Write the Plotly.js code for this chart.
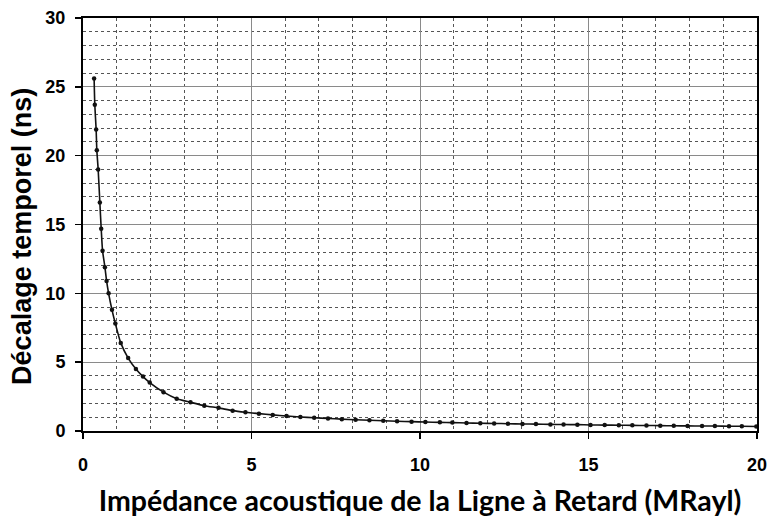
<!DOCTYPE html>
<html>
<head>
<meta charset="utf-8">
<script src="https://cdn.plot.ly/plotly-3.0.1.min.js"></script>
<style>html,body{margin:0;padding:0;background:#fff;}#chart{width:769px;height:522px;}</style>
</head>
<body>
<div id="chart"></div>
<script>
// Impedance (MRayl)
const impedance = [0.33, 0.35, 0.39, 0.41, 0.45, 0.50, 0.54, 0.58, 0.65, 0.70, 0.76, 0.86, 0.96, 1.12, 1.34, 1.57, 1.78, 1.98, 2.39, 2.78, 3.19, 3.60, 4.02, 4.44, 4.82,
  5.22, 5.63, 6.04, 6.45, 6.86, 7.27, 7.68, 8.09, 8.50, 8.91, 9.32, 9.75, 10.16, 10.59, 10.96, 11.38, 11.79, 12.20, 12.61, 13.04, 13.44,
  13.87, 14.26, 14.67, 15.06, 15.48, 15.90, 16.30, 16.72, 17.13, 17.53, 17.94, 18.37, 18.75, 19.17, 19.55, 19.98];
// Time shift (ns)
const decalage = [25.6, 23.7, 21.9, 20.4, 19.0, 16.6, 14.7, 13.1, 11.9, 10.9, 10.0, 8.8, 7.8, 6.4, 5.3, 4.5, 3.95, 3.52, 2.82, 2.35, 2.09, 1.84, 1.68, 1.48, 1.36,
  1.26, 1.17, 1.09, 1.02, 0.96, 0.91, 0.86, 0.82, 0.78, 0.75, 0.71, 0.68, 0.65, 0.63, 0.61, 0.58, 0.56, 0.55, 0.53, 0.51, 0.50,
  0.48, 0.47, 0.46, 0.44, 0.43, 0.42, 0.41, 0.40, 0.39, 0.38, 0.37, 0.36, 0.36, 0.35, 0.34, 0.33];

const xTitle = "Impédance acoustique de la Ligne à Retard (MRayl)";
const yTitle = "Décalage temporel (ns)";

const trace = {
  x: impedance, y: decalage, type: 'scatter', mode: 'lines+markers',
  line: {color: '#111', width: 1.6, shape: 'spline', smoothing: 0.6},
  marker: {color: '#111', size: 4.5},
  cliponaxis: false, hoverinfo: 'skip'
};

const tickFont = {family: '"Liberation Sans", Arial, sans-serif', size: 18, color: '#000', weight: 'bold'};

const layout = {
  width: 769, height: 522,
  margin: {l: 83, r: 12, t: 18, b: 91},
  paper_bgcolor: '#fff', plot_bgcolor: '#fff',
  showlegend: false,
  xaxis: {
    range: [0, 20], dtick: 5, tick0: 0,
    showline: true, linecolor: '#000', linewidth: 2, mirror: true,
    ticks: 'outside', ticklen: 6, tickwidth: 1.5, tickcolor: '#000',
    showgrid: true, gridcolor: '#8a8a8a', gridwidth: 1,
    minor: {dtick: 1, showgrid: true, gridcolor: '#555', griddash: 'dot', gridwidth: 1},
    zeroline: false,
    tickfont: tickFont, ticklabelstandoff: 10,
    title: {text: xTitle, font: {family: 'Lato, "Open Sans", sans-serif', size: 28.5, color: '#000', weight: 'bold'}, standoff: 17}
  },
  yaxis: {
    range: [0, 30], dtick: 5, tick0: 0,
    showline: true, linecolor: '#000', linewidth: 2, mirror: true,
    ticks: 'outside', ticklen: 6, tickwidth: 1.5, tickcolor: '#000',
    showgrid: true, gridcolor: '#8a8a8a', gridwidth: 1,
    minor: {dtick: 1, showgrid: true, gridcolor: '#555', griddash: 'dot', gridwidth: 1},
    zeroline: false,
    tickfont: tickFont, ticklabelstandoff: 6
  },
  annotations: [{
    text: yTitle, textangle: -90, showarrow: false,
    xref: 'paper', yref: 'paper', x: -0.0905, y: 0.47,
    xanchor: 'center', yanchor: 'middle',
    font: {family: '"Liberation Sans", Arial, sans-serif', size: 27, color: '#000', weight: 'bold'}
  }]
};

Plotly.newPlot('chart', [trace], layout, {staticPlot: true, displayModeBar: false});
</script>
</body>
</html>
